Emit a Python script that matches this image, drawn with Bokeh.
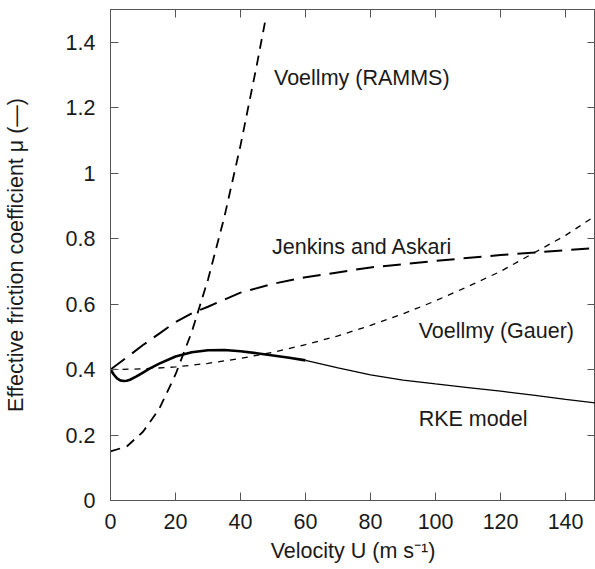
from bokeh.plotting import figure
from bokeh.models import Range1d, LinearAxis, FixedTicker, Label
from bokeh.embed import file_html
from bokeh.resources import INLINE

# ---- data ----
rke_u = [0, 1, 2, 3, 4, 5, 6, 8, 10, 12, 15, 20, 25, 30, 35, 40, 45, 50, 55, 60,
         70, 80, 90, 100, 110, 120, 130, 140, 150]
rke_mu = [0.40, 0.385, 0.373, 0.367, 0.365, 0.366, 0.369, 0.379, 0.391, 0.403, 0.418,
          0.440, 0.453, 0.459, 0.460, 0.456, 0.450, 0.443, 0.436, 0.428,
          0.405, 0.384, 0.368, 0.356, 0.345, 0.334, 0.322, 0.309, 0.297]

ramms_u = [0, 5, 10, 15, 20, 25, 30, 35, 40, 45, 47.5]
ramms_mu = [0.15, 0.165, 0.21, 0.28, 0.385, 0.515, 0.675, 0.865, 1.085, 1.33, 1.46]

jenkins_u = [0, 5, 10, 15, 20, 25, 30, 40, 50, 60, 80, 100, 120, 150]
jenkins_mu = [0.40, 0.437, 0.475, 0.51, 0.545, 0.572, 0.592, 0.635, 0.662, 0.682,
              0.712, 0.732, 0.75, 0.772]

gauer_u = [0, 10, 20, 30, 40, 50, 60, 70, 80, 90, 100, 110, 120, 130, 140, 150]
gauer_mu = [0.40, 0.402, 0.408, 0.419, 0.434, 0.453, 0.476, 0.503, 0.535, 0.57,
            0.61, 0.654, 0.70, 0.755, 0.81, 0.875]

x_ticks = [0, 20, 40, 60, 80, 100, 120, 140]
y_ticks = [0, 0.2, 0.4, 0.6, 0.8, 1.0, 1.2, 1.4]
y_tick_labels = ["0", "0.2", "0.4", "0.6", "0.8", "1", "1.2", "1.4"]

curve_names = ["Voellmy (RAMMS)", "Jenkins and Askari", "Voellmy (Gauer)", "RKE model"]
x_label = "Velocity U (m s\u207b\u00b9)"
y_label = "Effective friction coefficient \u03bc (\u2014)"

FONT = "Liberation Sans"
FS = "21.5px"
TXT = "#1a1a1a"
AX = "#555555"

p = figure(width=595, height=568,
           x_range=Range1d(0, 149.2), y_range=Range1d(0, 1.5),
           output_backend="svg", toolbar_location=None,
           min_border_left=107, min_border_right=0,
           min_border_top=9, min_border_bottom=68,
           x_axis_label=x_label, y_axis_label=y_label)
p.grid.visible = False
p.outline_line_color = AX
p.outline_line_width = 1
p.background_fill_color = "white"
p.border_fill_color = "white"

p.xaxis.ticker = FixedTicker(ticks=x_ticks)
p.yaxis.ticker = FixedTicker(ticks=y_ticks)
p.yaxis.major_label_overrides = {t: l for t, l in zip(y_ticks, y_tick_labels)}

for ax in (p.xaxis[0], p.yaxis[0]):
    ax.major_tick_in = 8
    ax.major_tick_out = 0
    ax.minor_tick_in = 0
    ax.minor_tick_out = 0
    ax.axis_line_color = AX
    ax.major_tick_line_color = AX
    ax.major_label_text_font = FONT
    ax.major_label_text_font_size = FS
    ax.major_label_text_color = TXT
    ax.axis_label_text_font = FONT
    ax.axis_label_text_font_size = FS
    ax.axis_label_text_font_style = "normal"
    ax.axis_label_text_color = TXT

p.xaxis.major_label_standoff = 13
p.xaxis.axis_label_standoff = 7
p.yaxis.major_label_standoff = 15
p.yaxis.axis_label_standoff = 35

for loc, ticks in (("above", x_ticks), ("right", y_ticks)):
    ax = LinearAxis(ticker=FixedTicker(ticks=ticks), major_tick_in=8, major_tick_out=0,
                    minor_tick_in=0, minor_tick_out=0, major_label_text_font_size="1px",
                    major_label_text_color=None, major_label_standoff=0,
                    axis_line_color=AX, major_tick_line_color=AX)
    p.add_layout(ax, loc)

# curves
p.line(ramms_u, ramms_mu, line_color="black", line_width=1.8, line_dash="10 7")
p.line(jenkins_u, jenkins_mu, line_color="black", line_width=2, line_dash="18 9")
p.line(gauer_u, gauer_mu, line_color="black", line_width=1.3, line_dash="6 6")
thin_u = [u for u in rke_u if u >= 60]
thin_mu = [m for u, m in zip(rke_u, rke_mu) if u >= 60]
thick_u = [u for u in rke_u if u <= 60]
thick_mu = [m for u, m in zip(rke_u, rke_mu) if u <= 60]
p.line(thin_u, thin_mu, line_color="black", line_width=1.3)
p.line(thick_u, thick_mu, line_color="black", line_width=2.6)

# curve annotations (left x, middle y in data units)
for name, (lx, ly) in zip(curve_names, [(50.3, 1.29), (49.7, 0.773), (94.8, 0.519), (94.8, 0.25)]):
    p.add_layout(Label(x=lx, y=ly, text=name, text_font=FONT, text_font_size=FS,
                       text_color=TXT, text_baseline="middle", text_align="left"))

open("out.html", "w").write(file_html(p, INLINE))
